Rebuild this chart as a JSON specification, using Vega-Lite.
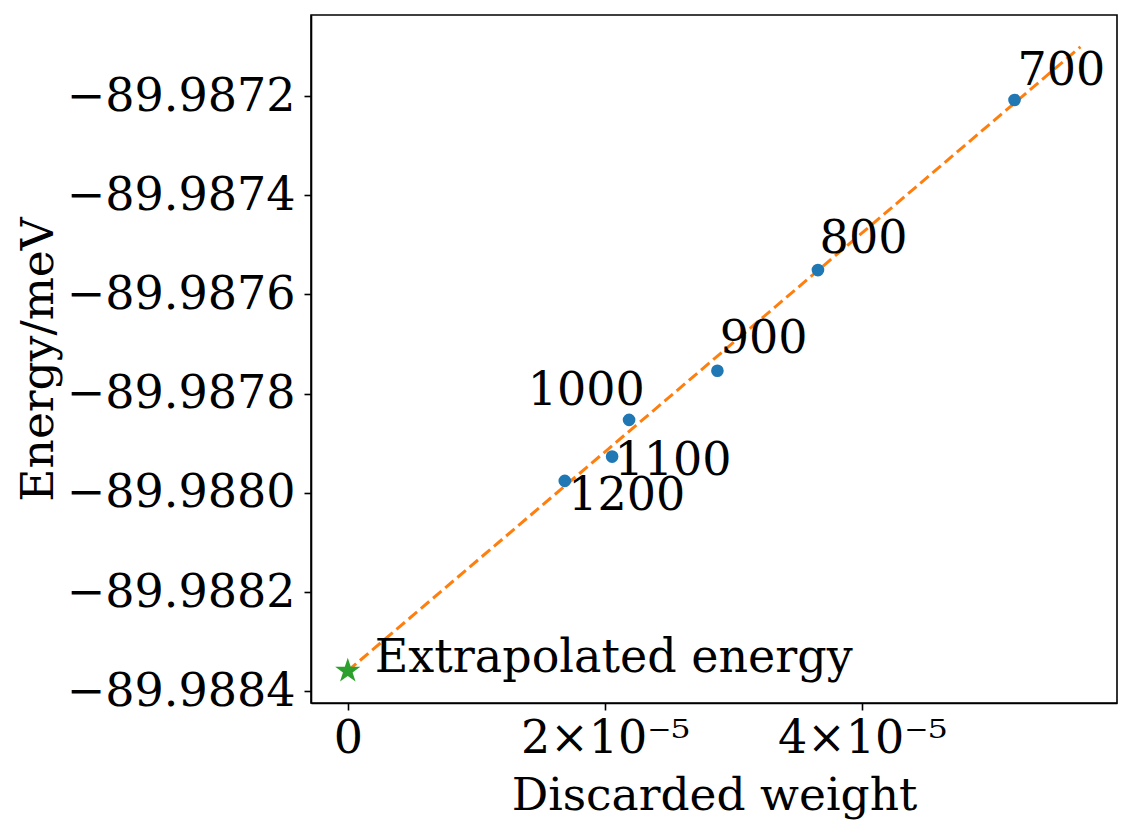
{
  "$schema": "https://vega.github.io/schema/vega-lite/v6.json",
  "autosize": {"type": "none"},
  "padding": {"left": 311, "top": 15, "right": 16, "bottom": 130},
  "width": 806,
  "height": 688,
  "background": "white",
  "config": {
    "font": "DejaVu Serif",
    "view": {"stroke": "black", "strokeWidth": 1.6},
    "axis": {
      "labelFont": "DejaVu Serif",
      "titleFont": "DejaVu Serif",
      "labelFontSize": 46,
      "titleFontSize": 45.5,
      "labelColor": "black",
      "titleColor": "black",
      "titleFontWeight": "normal",
      "tickColor": "black",
      "tickWidth": 1.6,
      "tickSize": 7,
      "domainColor": "black",
      "domainWidth": 1.6,
      "labelLimit": 400,
      "grid": false
    }
  },
  "encoding": {
    "x": {
      "field": "weight",
      "type": "quantitative",
      "scale": {"domain": [-2.86e-6, 5.983e-5], "nice": false, "zero": false},
      "axis": {
        "orient": "bottom",
        "title": "Discarded weight",
        "values": [0, 2e-5, 4e-5],
        "labelExpr": "datum.value == 0 ? '0' : format(round(datum.value / 1e-5), 'd') + '×10⁻⁵'",
        "labelPadding": 6,
        "titleX": 403,
        "titleY": 106,
        "titleBaseline": "alphabetic",
        "titleAlign": "center"
      }
    },
    "y": {
      "field": "energy",
      "type": "quantitative",
      "scale": {"domain": [-89.98842379, -89.98703669], "nice": false, "zero": false},
      "axis": {
        "orient": "left",
        "title": "Energy/meV",
        "values": [-89.9884, -89.9882, -89.988, -89.9878, -89.9876, -89.9874, -89.9872],
        "labelExpr": "replace(format(datum.value, '.4f'), '-', '−')",
        "labelPadding": 9,
        "titleX": -259,
        "titleY": 344,
        "titleAngle": -90,
        "titleBaseline": "alphabetic",
        "titleAlign": "center"
      }
    }
  },
  "layer": [
    {
      "data": {"values": [
        {"weight": 0, "energy": -89.988359},
        {"weight": 5.699e-5, "energy": -89.987101}
      ]},
      "mark": {"type": "line", "color": "#ff7f0e", "strokeWidth": 3, "strokeDash": [11, 5]},
      "encoding": {}
    },
    {
      "data": {"values": [
        {"bond_dim": "700", "weight": 5.186e-5, "energy": -89.987208},
        {"bond_dim": "800", "weight": 3.657e-5, "energy": -89.987551},
        {"bond_dim": "900", "weight": 2.875e-5, "energy": -89.987754},
        {"bond_dim": "1000", "weight": 2.188e-5, "energy": -89.987853},
        {"bond_dim": "1100", "weight": 2.056e-5, "energy": -89.987927},
        {"bond_dim": "1200", "weight": 1.688e-5, "energy": -89.987976}
      ]},
      "mark": {"type": "circle", "color": "#1f77b4", "size": 160, "opacity": 1}
    },
    {
      "data": {"values": [
        {"weight": 0, "energy": -89.988359}
      ]},
      "mark": {"type": "point", "shape": "M0,-1L0.2245,-0.309L0.9511,-0.309L0.3633,0.118L0.5878,0.809L0,0.382L-0.5878,0.809L-0.3633,0.118L-0.9511,-0.309L-0.2245,-0.309Z", "filled": true, "color": "#2ca02c", "size": 700, "opacity": 1}
    },
    {
      "data": {"values": [
        {"text": "700", "weight": 5.209e-5, "energy": -89.987178},
        {"text": "800", "weight": 3.670e-5, "energy": -89.987517},
        {"text": "900", "weight": 2.893e-5, "energy": -89.987718},
        {"text": "1000", "weight": 1.40e-5, "energy": -89.987823},
        {"text": "1100", "weight": 2.075e-5, "energy": -89.987964},
        {"text": "1200", "weight": 1.715e-5, "energy": -89.988035},
        {"text": "Extrapolated energy", "weight": 2.1e-6, "energy": -89.988361}
      ]},
      "mark": {"type": "text", "font": "DejaVu Serif", "fontSize": 46, "align": "left", "baseline": "alphabetic", "color": "black"},
      "encoding": {"text": {"field": "text"}}
    }
  ]
}
